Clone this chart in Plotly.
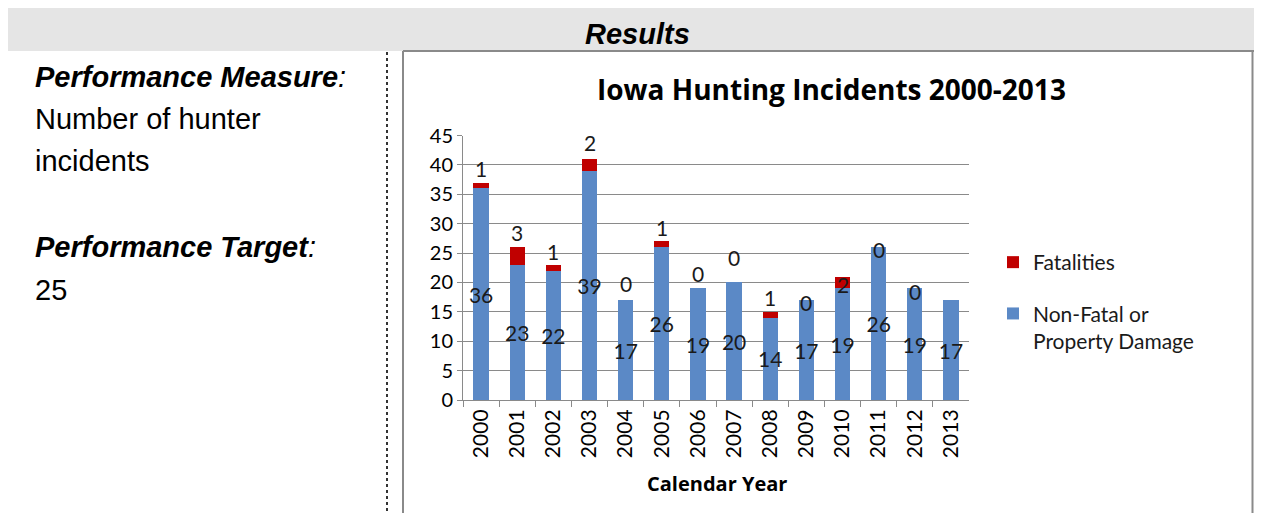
import plotly.graph_objects as go

years = [str(y) for y in range(2000, 2014)]
non_fatal = [36, 23, 22, 39, 17, 26, 19, 20, 14, 17, 19, 26, 19, 17]
fatalities = [1, 3, 1, 2, 0, 1, 0, 0, 1, 0, 2, 0, 0, None]
y_ticks = [0, 5, 10, 15, 20, 25, 30, 35, 40, 45]

# label vertical offsets (px) for fatality labels, relative to stack top
fatal_label_shift = [14, 15, 13, 17, 17, 14, 15, 25, 14, -2, -8, -2, -3, 0]

# the page body has an 8px margin; figure is sized to fit the visible window
OFF = 8
W, H = 1262 - 2 * OFF, 521 - 2 * OFF
def px(x):
    return (x - OFF) / W
def py(y):
    return 1 - (y - OFF) / H

BLUE = "#5B89C6"
RED = "#C00000"
CHART_FONT = "Lato"
TITLE_FONT = "Open Sans"
DOC_FONT = "Liberation Sans"

fig = go.Figure()
fig.add_trace(go.Bar(
    x=years, y=non_fatal, name="Non-Fatal or<br>Property Damage",
    marker=dict(color=BLUE, line=dict(width=0)),
    text=[str(v) for v in non_fatal], textposition="inside",
    insidetextanchor="middle", constraintext="none", textangle=0,
    textfont=dict(family=CHART_FONT, size=21, color="#1a1a1a"),
    legendrank=2, legendgroup="nf", hoverinfo="skip",
))
fig.add_trace(go.Bar(
    x=years, y=[f if f is not None else 0 for f in fatalities], name="Fatalities",
    marker=dict(color=RED, line=dict(width=0)),
    legendrank=1, legendgroup="f", hoverinfo="skip",
))

annotations = []
for i, (nf, f, sh) in enumerate(zip(non_fatal, fatalities, fatal_label_shift)):
    if f is None:
        continue
    annotations.append(dict(
        x=i, y=nf + f, xref="x", yref="y", text=str(f), showarrow=False,
        yanchor="middle", yshift=sh,
        font=dict(family=CHART_FONT, size=21, color="#1a1a1a"),
    ))

# document texts
doc_font = dict(family=DOC_FONT, size=29, color="#000")
annotations += [
    dict(x=px(637), y=py(34), xref="paper", yref="paper", text="<b><i>Results</i></b>",
         showarrow=False, font=doc_font, xanchor="center", yanchor="middle"),
    dict(x=px(33), y=py(77), xref="paper", yref="paper",
         text="<b><i>Performance Measure</i></b><i>:</i>",
         showarrow=False, font=doc_font, xanchor="left", yanchor="middle"),
    dict(x=px(33), y=py(119), xref="paper", yref="paper", text="Number of hunter",
         showarrow=False, font=doc_font, xanchor="left", yanchor="middle"),
    dict(x=px(33), y=py(161), xref="paper", yref="paper", text="incidents",
         showarrow=False, font=doc_font, xanchor="left", yanchor="middle"),
    dict(x=px(33), y=py(247), xref="paper", yref="paper",
         text="<b><i>Performance Target</i></b><i>:</i>",
         showarrow=False, font=doc_font, xanchor="left", yanchor="middle"),
    dict(x=px(33), y=py(290), xref="paper", yref="paper", text="25",
         showarrow=False, font=doc_font, xanchor="left", yanchor="middle"),
    dict(x=px(831), y=py(89), xref="paper", yref="paper",
         text="<b>Iowa Hunting Incidents 2000-2013</b>",
         showarrow=False, font=dict(family=TITLE_FONT, size=28, color="#000"),
         xanchor="center", yanchor="middle"),
    dict(x=px(717), y=py(483), xref="paper", yref="paper", text="<b>Calendar Year</b>",
         showarrow=False, font=dict(family=TITLE_FONT, size=20, color="#000"),
         xanchor="center", yanchor="middle"),
]

RIGHT = OFF + W - 1.5  # right border of the chart box (last visible pixel column)
shapes = [
    dict(type="rect", xref="paper", yref="paper", x0=0, x1=1, y0=py(51), y1=1,
         fillcolor="#E5E5E5", line=dict(width=0), layer="below"),
    dict(type="line", xref="paper", yref="paper", x0=px(387), x1=px(387), y0=py(52), y1=0,
         line=dict(color="#333", width=2, dash="dot")),
    dict(type="line", xref="paper", yref="paper", x0=px(403), x1=1, y0=py(51), y1=py(51),
         line=dict(color="#8a8a8a", width=2)),
    dict(type="line", xref="paper", yref="paper", x0=px(403), x1=px(403), y0=py(51), y1=0,
         line=dict(color="#8a8a8a", width=2)),
    dict(type="line", xref="paper", yref="paper", x0=px(RIGHT), x1=px(RIGHT), y0=py(51), y1=0,
         line=dict(color="#8a8a8a", width=2)),
]

fig.update_layout(
    width=W, height=H, autosize=False,
    margin=dict(l=0, r=0, t=0, b=0, pad=0, autoexpand=False),
    paper_bgcolor="white", plot_bgcolor="white",
    barmode="stack", bargap=0.58,
    showlegend=True,
    legend=dict(x=px(993), y=py(242), xanchor="left", yanchor="top",
                traceorder="grouped", tracegroupgap=21, valign="top",
                font=dict(family=CHART_FONT, size=21, color="#1a1a1a"),
                itemwidth=30, bgcolor="rgba(0,0,0,0)"),
    xaxis=dict(domain=[px(463), px(969)], type="category", tickangle=-90,
               range=[-0.5, len(years) - 0.5],
               showline=True, linecolor="#8a8a8a", linewidth=1,
               ticks="outside", tickson="boundaries", ticklen=6, tickcolor="#8a8a8a",
               tickfont=dict(family=CHART_FONT, size=21, color="#000"),
               showgrid=False, fixedrange=True, automargin=False),
    yaxis=dict(domain=[py(400), py(135.5)], range=[0, 45], tickvals=y_ticks,
               showline=True, linecolor="#8a8a8a", linewidth=1,
               ticks="outside", ticklen=5, tickcolor="#8a8a8a",
               showgrid=True, gridcolor="#8a8a8a", gridwidth=1, zeroline=False,
               tickfont=dict(family=CHART_FONT, size=20, color="#000"), fixedrange=True,
               automargin=False),
    annotations=annotations,
    shapes=shapes,
)

fig.write_html("out.html")
